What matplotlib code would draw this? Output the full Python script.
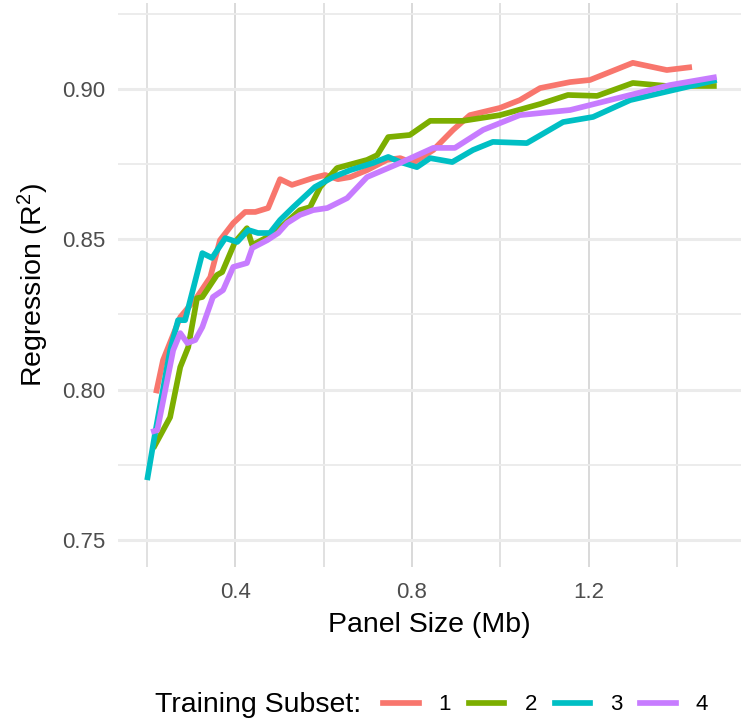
import numpy as np
import matplotlib
matplotlib.use("Agg")
import matplotlib.pyplot as plt
from matplotlib.lines import Line2D

plt.rcParams['font.family'] = ['Liberation Sans', 'DejaVu Sans']
plt.rcParams['mathtext.fontset'] = 'custom'
plt.rcParams['mathtext.rm'] = 'Liberation Sans'
plt.rcParams['mathtext.it'] = 'Liberation Sans'

### data (panel size in Mb, R^2)
x1 = [0.220, 0.236, 0.275, 0.313, 0.343, 0.365, 0.395, 0.422, 0.445, 0.474, 0.501, 0.528,
      0.576, 0.603, 0.632, 0.660, 0.698, 0.743, 0.773, 0.802, 0.848, 0.893, 0.931, 0.999,
      1.044, 1.090, 1.158, 1.203, 1.300, 1.377, 1.434]
y1 = [0.7988, 0.8098, 0.8241, 0.8308, 0.8374, 0.8497, 0.8554, 0.8591, 0.8591, 0.8604, 0.8700, 0.8681,
      0.8704, 0.8714, 0.8700, 0.8707, 0.8730, 0.8764, 0.8770, 0.8754, 0.8797, 0.8864, 0.8913, 0.8937,
      0.8963, 0.9003, 0.9023, 0.9030, 0.9087, 0.9063, 0.9073]

x2 = [0.214, 0.252, 0.275, 0.293, 0.313, 0.325, 0.358, 0.370, 0.399, 0.426, 0.438, 0.472,
      0.508, 0.546, 0.569, 0.592, 0.630, 0.698, 0.721, 0.746, 0.795, 0.841, 0.915, 0.999,
      1.090, 1.153, 1.219, 1.300, 1.377, 1.490]
y2 = [0.7805, 0.7908, 0.8075, 0.8141, 0.8304, 0.8308, 0.8381, 0.8391, 0.8491, 0.8537, 0.8481, 0.8507,
      0.8547, 0.8597, 0.8607, 0.8674, 0.8737, 0.8764, 0.8780, 0.8840, 0.8847, 0.8894, 0.8894, 0.8913,
      0.8950, 0.8980, 0.8977, 0.9020, 0.9010, 0.9010]

x3 = [0.200, 0.218, 0.252, 0.270, 0.286, 0.325, 0.347, 0.377, 0.404, 0.429, 0.451, 0.478,
      0.501, 0.531, 0.580, 0.621, 0.660, 0.712, 0.746, 0.773, 0.811, 0.841, 0.891, 0.938,
      0.983, 1.060, 1.142, 1.210, 1.294, 1.490]
y3 = [0.7699, 0.7855, 0.8131, 0.8231, 0.8231, 0.8454, 0.8438, 0.8504, 0.8491, 0.8531, 0.8521, 0.8521,
      0.8564, 0.8607, 0.8674, 0.8707, 0.8730, 0.8754, 0.8774, 0.8757, 0.8740, 0.8770, 0.8757, 0.8797,
      0.8824, 0.8820, 0.8890, 0.8907, 0.8963, 0.9030]

x4 = [0.209, 0.223, 0.259, 0.275, 0.291, 0.309, 0.325, 0.349, 0.372, 0.395, 0.426, 0.438,
      0.472, 0.497, 0.517, 0.546, 0.576, 0.608, 0.653, 0.698, 0.773, 0.848, 0.897, 0.961,
      1.044, 1.158, 1.294, 1.384, 1.490]
y4 = [0.7859, 0.7865, 0.8131, 0.8188, 0.8155, 0.8165, 0.8208, 0.8308, 0.8331, 0.8408, 0.8421, 0.8471,
      0.8497, 0.8521, 0.8554, 0.8581, 0.8597, 0.8604, 0.8637, 0.8707, 0.8754, 0.8804, 0.8804, 0.8864,
      0.8913, 0.8930, 0.8980, 0.9013, 0.9040]

subsets = ['1', '2', '3', '4']
colors = ['#F8766D', '#7CAE00', '#00BFC4', '#C77CFF']
series = [(x1, y1), (x2, y2), (x3, y3), (x4, y4)]

fig = plt.figure(figsize=(7.41, 7.27), dpi=100)
ax = fig.add_axes([118/741, 160/727, 623/741, 564/727])

for (xs, ys), c in zip(series, colors):
    ax.plot(xs, ys, color=c, lw=4.1, solid_capstyle='butt', solid_joinstyle='round', zorder=3)

ax.set_xlim(0.134, 1.545)
ax.set_ylim(0.741, 0.9286)
ax.set_xticks([0.4, 0.8, 1.2])
ax.set_xticklabels(['0.4', '0.8', '1.2'])
ax.set_xticks([0.2, 0.6, 1.0, 1.4], minor=True)
ax.set_yticks([0.75, 0.80, 0.85, 0.90])
ax.set_yticklabels(['0.75', '0.80', '0.85', '0.90'])
ax.set_yticks([0.775, 0.825, 0.875, 0.925], minor=True)

ax.grid(axis='y', which='major', color='#ebebeb', lw=2.2, zorder=0)
ax.grid(axis='y', which='minor', color='#ebebeb', lw=1.3, zorder=0)
ax.grid(axis='x', which='major', color='#d9d9d9', lw=1.4, zorder=0)
ax.grid(axis='x', which='minor', color='#dedede', lw=1.3, zorder=0)
ax.set_axisbelow(True)
for s in ax.spines.values():
    s.set_visible(False)
ax.tick_params(which='both', length=0)
ax.tick_params(axis='x', pad=11, labelsize=16, labelcolor='#4d4d4d')
ax.tick_params(axis='y', pad=9, labelsize=16, labelcolor='#4d4d4d')

ax.set_xlabel('Panel Size (Mb)', fontsize=20.5, labelpad=6)
ax.set_ylabel('Regression (R$^2$)', fontsize=20.5, labelpad=8)

### legend at the bottom
handles = [Line2D([], [], color=c, lw=4.1) for c in colors]
fig.legend(handles, subsets, loc='center left', bbox_to_anchor=(383/741, 1 - 705/727),
           ncol=4, frameon=False, fontsize=16, handlelength=1.6, handletextpad=0.9,
           columnspacing=0.8, borderpad=0, borderaxespad=0)
fig.text(155/741, 1 - 705/727, 'Training Subset:', fontsize=20.5, va='center', ha='left')

fig.savefig('out.png', dpi=100)
